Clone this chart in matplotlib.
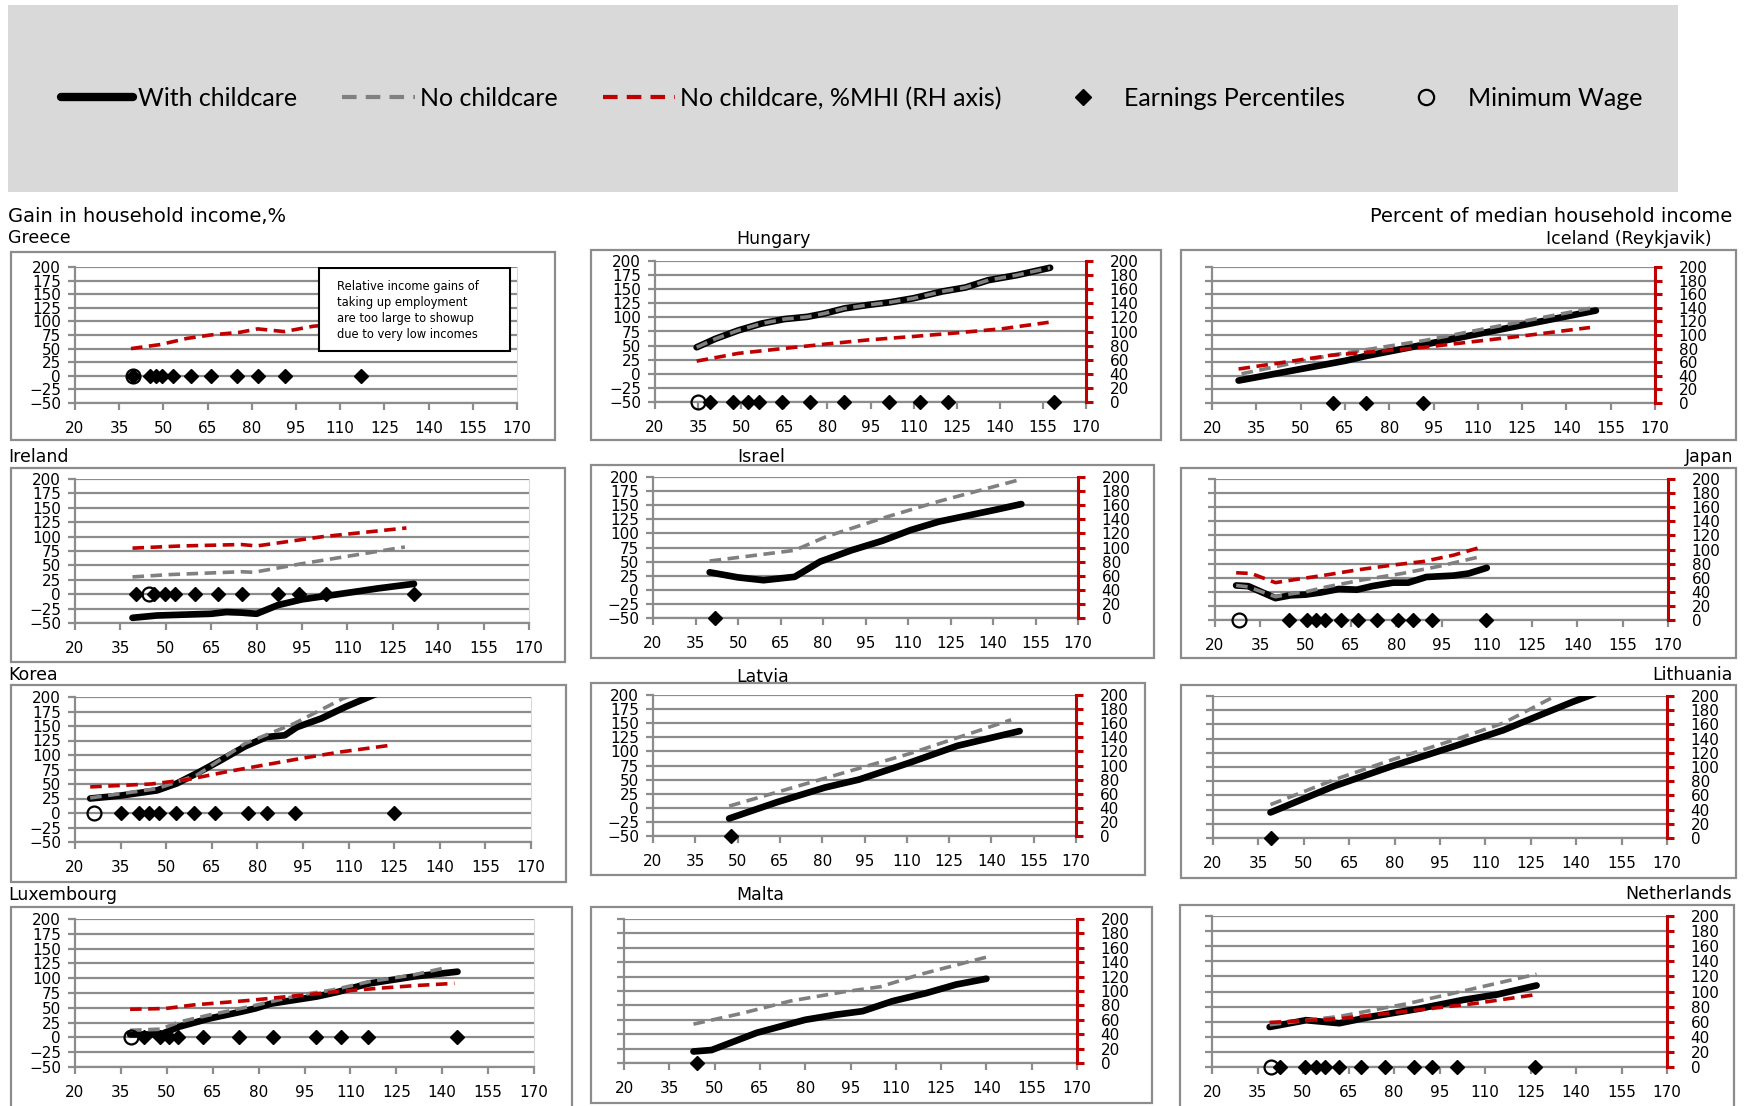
import matplotlib
matplotlib.use("Agg")
import matplotlib.pyplot as plt
from matplotlib.lines import Line2D
from matplotlib.patches import Rectangle

# Greece: with/without childcare gains are off the scale, only %MHI shown
gr_mhi_x = [39, 49, 58, 66, 76, 82, 91, 101, 116]
gr_mhi_y = [80, 86, 95, 100, 104, 109, 105, 113, 118]
gr_pct = [39.8, 45.5, 47.4, 49.4, 53.4, 59.3, 66.3, 75.1, 82.0, 91.2, 117.0]
gr_mw = [39.8]

# Hungary
hu_with_x = [34.5, 41, 49, 57, 65, 73, 79, 86, 94, 102, 110, 120, 128, 136, 146, 157.5]
hu_with_y = [47, 62, 77, 89, 97, 101, 107, 116, 122, 127, 134, 146, 153, 166, 175, 188]
hu_no_x = [34.5, 41, 49, 57, 65, 73, 79, 86, 94, 102, 110, 120, 128, 136, 146, 157.5]
hu_no_y = [47, 62, 77, 89, 97, 101, 107, 116, 122, 127, 134, 146, 153, 166, 175, 188]
hu_mhi_x = [34.5, 49, 65, 79, 94, 110, 125, 141, 157]
hu_mhi_y = [58, 69, 76, 82, 88, 93, 98, 104, 113]
hu_pct = [39.1, 47.0, 52.2, 56.2, 64.1, 73.9, 85.8, 101.6, 112.1, 122.0, 158.8]
hu_mw = [35.1]

# Iceland (Reykjavik)
is_with_x = [29, 65, 72, 92, 150]
is_with_y = [33, 62, 69, 86, 136]
is_no_x = [30, 60, 92, 150]
is_no_y = [43, 70, 92, 141]
is_mhi_x = [29, 60, 92, 124, 148]
is_mhi_y = [50, 70, 82, 98, 111]
is_pct = [61.0, 72.1, 91.3]
is_mw = []

# Ireland
ie_with_x = [39, 47, 65, 70, 75, 80, 87, 95, 107, 120, 132]
ie_with_y = [-41, -37, -34, -31, -32, -34, -19, -9, 0, 10, 18]
ie_no_x = [39, 51, 75, 79, 95, 129]
ie_no_y = [30, 34, 39, 38, 53, 82]
ie_mhi_x = [39, 55, 75, 80, 102, 129.5]
ie_mhi_y = [104, 107, 109, 107, 120, 132]
ie_pct = [40.2, 46.1, 49.9, 53.0, 59.8, 67.1, 75.1, 87.2, 94.1, 102.8, 132.0]
ie_mw = [44.3]

# Israel
il_with_x = [40, 50, 59, 70, 79, 90, 101, 111, 121, 141, 150]
il_with_y = [31, 22, 17, 23, 50, 70, 87, 106, 121, 142, 152]
il_no_x = [40, 70, 81, 101, 121, 150]
il_no_y = [51, 70, 94, 127, 157, 196]
il_pct = [42.0]
il_mw = []

# Japan
jp_with_x = [27, 31, 40, 45, 50, 55, 61, 67, 72, 79, 84, 90, 99, 104, 110]
jp_with_y = [49, 48, 31, 35, 36, 39, 44, 43, 48, 53, 53, 61, 63, 66, 74]
jp_no_x = [27, 31, 40, 45, 50, 57, 69, 82, 94, 107]
jp_no_y = [49, 47, 33, 37, 40, 47, 57, 66, 76, 89]
jp_mhi_x = [27, 32, 40, 46, 57, 67, 79, 89, 99, 107]
jp_mhi_y = [67, 66, 53, 57, 64, 71, 78, 83, 92, 102]
jp_pct = [44.6, 50.5, 53.4, 56.4, 61.6, 67.3, 73.5, 80.6, 85.4, 91.7, 109.8]
jp_mw = [28.0]

# Korea
kr_with_x = [25, 35, 47, 53.5, 61, 68, 76, 83, 89, 93, 101, 109, 118, 125]
kr_with_y = [25, 30, 39, 51, 71, 91, 115, 131, 134, 148, 163, 183, 203, 218]
kr_no_x = [25, 47, 60, 76, 92, 108, 116]
kr_no_y = [26, 42, 65, 120, 154, 197, 212]
kr_mhi_x = [25, 45, 57, 70, 82, 94, 107, 123]
kr_mhi_y = [76, 80, 86, 97, 106, 115, 124, 133]
kr_pct = [35.1, 41.1, 44.4, 47.5, 53.2, 59.0, 66.1, 77.0, 83.2, 92.3, 125.0]
kr_mw = [26.4]

# Latvia
lv_with_x = [47, 64, 81, 93, 111, 128, 150]
lv_with_y = [-19, 10, 36, 50, 80, 110, 136]
lv_no_x = [47, 74.5, 111, 147]
lv_no_y = [3, 43, 96, 156]
lv_pct = [47.6]
lv_mw = []

# Lithuania
lt_with_x = [39, 60, 79, 101, 116, 128, 139, 146]
lt_with_y = [36, 73, 101, 131, 152, 173, 192, 203]
lt_no_x = [39, 60, 79, 101, 116, 134]
lt_no_y = [47, 82, 110, 140, 162, 202]
lt_pct = [39.2]
lt_mw = []

# Luxembourg
lu_with_x = [38, 48, 54, 64, 74, 79, 84, 99, 106, 116, 131, 145]
lu_with_y = [5, 5, 18, 32, 43, 49, 57, 69, 77, 91, 103, 111]
lu_no_x = [38, 48, 54, 64, 77, 94, 104, 116, 131, 140.5]
lu_no_y = [12, 14, 26, 38, 52, 72, 80, 94, 106, 117]
lu_mhi_x = [38, 49.5, 59, 77, 94, 106, 118, 131, 144]
lu_mhi_y = [78, 79, 84, 90, 97, 102, 106, 110, 113]
lu_pct = [42.7, 47.7, 50.7, 53.8, 61.8, 73.7, 84.8, 98.9, 106.8, 115.9, 144.8]
lu_mw = [38.4]

# Malta
mt_with_x = [43, 49, 64, 80, 90, 99, 109, 120, 130, 140]
mt_with_y = [16, 18, 42, 60, 67, 72, 86, 97, 109, 117]
mt_no_x = [43, 59, 75, 93, 105, 118, 140]
mt_no_y = [54, 69, 86, 99, 106, 123, 147]
mt_pct = [44.1]
mt_mw = []

# Netherlands
nl_with_x = [39, 51, 62, 73, 88, 103, 114, 127]
nl_with_y = [53, 62, 58, 67, 77, 89, 96, 108]
nl_no_x = [39, 62, 84.5, 106.5, 127]
nl_no_y = [56, 67, 84, 104, 123]
nl_mhi_x = [39, 62, 84.5, 106.5, 127]
nl_mhi_y = [59, 64, 74, 84, 96]
nl_pct = [42.5, 50.6, 54.3, 57.2, 62.0, 69.0, 77.1, 86.7, 92.6, 100.7, 126.5]
nl_mw = [39.5]

x_ticks = list(range(20, 171, 15))
gain_ticks = list(range(-50, 201, 25))
pct_ticks = list(range(0, 201, 20))

W, H = 1752, 1106
GRID = "#8c8c8c"
RED = "#c00000"
DASHGRAY = "#808080"
DASH = (3.2, 1.8)
TICK_FS = 11

greece_note = ("Relative income gains of\ntaking up employment\n"
               "are too large to showup\ndue to very low incomes")


def px_rect(x0, y0, x1, y1):
    return [x0 / W, 1 - y1 / H, (x1 - x0) / W, (y1 - y0) / H]


def draw_panel(fig, p):
    ax = fig.add_axes(px_rect(*p["box"]))
    ax.set_xlim(20, 170)
    ax.set_xticks(x_ticks)
    if p["scale"] == "gain":
        ax.set_ylim(-50, 200)
        ax.set_yticks(gain_ticks)
    else:
        ax.set_ylim(0, 200)
        ax.set_yticks(pct_ticks)
        ax.tick_params(axis="y", labelleft=False)
    ax.set_facecolor("none")
    ax.yaxis.grid(True, color=GRID, lw=1.6)
    ax.set_axisbelow(True)
    for side in ["left", "bottom"]:
        ax.spines[side].set_color(GRID)
        ax.spines[side].set_linewidth(1.6)
    ax.spines["top"].set_visible(False)
    ax.spines["right"].set_color("#d9d9d9")
    ax.tick_params(axis="both", direction="out", length=5, width=1.6,
                   color=GRID, labelsize=TICK_FS)
    ax.tick_params(axis="x", pad=8)
    ax.tick_params(axis="y", pad=5)

    # Secondary axis for the %MHI series
    ax2 = ax.twinx()
    ax2.set_ylim(0, 200)
    ax2.set_yticks(pct_ticks)
    for side in ["left", "bottom", "top"]:
        ax2.spines[side].set_visible(False)
    if p["col"] == 1:
        ax2.spines["right"].set_visible(False)
        ax2.tick_params(axis="y", right=False, labelright=False)
    else:
        ax2.spines["right"].set_color(RED)
        ax2.spines["right"].set_linewidth(2.2)
        ax2.tick_params(axis="y", direction="out", length=5, width=2.2,
                        color=RED, labelsize=TICK_FS, pad=12)

    if p.get("with_x"):
        ax.plot(p["with_x"], p["with_y"], color="black", lw=4.8,
                solid_capstyle="round", solid_joinstyle="round")
    if p.get("no_x"):
        ax.plot(p["no_x"], p["no_y"], color=DASHGRAY, lw=2.6, dashes=DASH)
    if p.get("mhi_x"):
        ax2.plot(p["mhi_x"], p["mhi_y"], color=RED, lw=2.6, dashes=DASH)

    # Earnings percentiles and minimum wage sit on the zero line
    mark_ax = ax if p["col"] == 1 else ax2
    mark_ax.plot(p["pct"], [0] * len(p["pct"]), ls="none", marker="D",
                 ms=7.5, color="black", clip_on=False, zorder=4)
    if p["mw"]:
        mark_ax.plot(p["mw"], [0] * len(p["mw"]), ls="none", marker="o",
                     ms=10, mfc="none", mec="black", mew=1.6,
                     clip_on=False, zorder=4)

    # Chart border and country title
    x0, y0, x1, y1 = p["frame"]
    fig.add_artist(Rectangle((x0 / W, 1 - y1 / H), (x1 - x0) / W,
                             (y1 - y0) / H, transform=fig.transFigure,
                             fill=False, ec=GRID, lw=1.6))
    tx, ty, ha = p["title"]
    fig.text(tx / W, 1 - ty / H, p["name"], ha=ha, va="center", fontsize=12.5)
    return ax, ax2


panels = [
    dict(name="Greece", col=1, scale="gain", box=(75, 267, 517, 403),
         frame=(11, 252, 555, 440), title=(8, 238, "left"),
         mhi_x=gr_mhi_x, mhi_y=gr_mhi_y, pct=gr_pct, mw=gr_mw),
    dict(name="Hungary", col=2, scale="gain", box=(655, 261, 1086, 402),
         frame=(591, 250, 1161, 440), title=(773, 239, "center"),
         with_x=hu_with_x, with_y=hu_with_y, no_x=hu_no_x, no_y=hu_no_y,
         mhi_x=hu_mhi_x, mhi_y=hu_mhi_y, pct=hu_pct, mw=hu_mw),
    dict(name="Iceland (Reykjavik)", col=3, scale="pct",
         box=(1212, 267, 1655, 403), frame=(1181, 250, 1736, 440),
         title=(1712, 239, "right"),
         with_x=is_with_x, with_y=is_with_y, no_x=is_no_x, no_y=is_no_y,
         mhi_x=is_mhi_x, mhi_y=is_mhi_y, pct=is_pct, mw=is_mw),
    dict(name="Ireland", col=1, scale="gain", box=(75, 479, 529, 623),
         frame=(11, 468, 565, 662), title=(8, 457, "left"),
         with_x=ie_with_x, with_y=ie_with_y, no_x=ie_no_x, no_y=ie_no_y,
         mhi_x=ie_mhi_x, mhi_y=ie_mhi_y, pct=ie_pct, mw=ie_mw),
    dict(name="Israel", col=2, scale="gain", box=(653, 477, 1078, 618),
         frame=(591, 465, 1154, 658), title=(761, 457, "center"),
         with_x=il_with_x, with_y=il_with_y, no_x=il_no_x, no_y=il_no_y,
         pct=il_pct, mw=il_mw),
    dict(name="Japan", col=3, scale="pct", box=(1215, 479, 1668, 620),
         frame=(1181, 468, 1736, 658), title=(1733, 457, "right"),
         with_x=jp_with_x, with_y=jp_with_y, no_x=jp_no_x, no_y=jp_no_y,
         mhi_x=jp_mhi_x, mhi_y=jp_mhi_y, pct=jp_pct, mw=jp_mw),
    dict(name="Korea", col=1, scale="gain", box=(75, 697, 531, 842),
         frame=(11, 685, 566, 882), title=(8, 675, "left"),
         with_x=kr_with_x, with_y=kr_with_y, no_x=kr_no_x, no_y=kr_no_y,
         mhi_x=kr_mhi_x, mhi_y=kr_mhi_y, pct=kr_pct, mw=kr_mw),
    dict(name="Latvia", col=2, scale="gain", box=(653, 695, 1076, 836),
         frame=(591, 683, 1145, 875), title=(763, 677, "center"),
         with_x=lv_with_x, with_y=lv_with_y, no_x=lv_no_x, no_y=lv_no_y,
         pct=lv_pct, mw=lv_mw),
    dict(name="Lithuania", col=3, scale="pct", box=(1213, 696, 1667, 838),
         frame=(1181, 685, 1736, 878), title=(1733, 675, "right"),
         with_x=lt_with_x, with_y=lt_with_y, no_x=lt_no_x, no_y=lt_no_y,
         pct=lt_pct, mw=lt_mw),
    dict(name="Luxembourg", col=1, scale="gain", box=(75, 919, 534, 1067),
         frame=(11, 907, 572, 1115), title=(8, 895, "left"),
         with_x=lu_with_x, with_y=lu_with_y, no_x=lu_no_x, no_y=lu_no_y,
         mhi_x=lu_mhi_x, mhi_y=lu_mhi_y, pct=lu_pct, mw=lu_mw),
    dict(name="Malta", col=2, scale="pct", box=(624, 919, 1077, 1063),
         frame=(591, 907, 1152, 1103), title=(760, 895, "center"),
         with_x=mt_with_x, with_y=mt_with_y, no_x=mt_no_x, no_y=mt_no_y,
         pct=mt_pct, mw=mt_mw),
    dict(name="Netherlands", col=3, scale="pct", box=(1212, 916, 1667, 1067),
         frame=(1180, 905, 1734, 1115), title=(1732, 894, "right"),
         with_x=nl_with_x, with_y=nl_with_y, no_x=nl_no_x, no_y=nl_no_y,
         mhi_x=nl_mhi_x, mhi_y=nl_mhi_y, pct=nl_pct, mw=nl_mw),
]


def main():
    plt.rcParams["font.family"] = ["DejaVu Sans"]
    fig = plt.figure(figsize=(W / 100, H / 100), dpi=100)
    fig.patch.set_facecolor("white")

    # Legend strip
    leg_ax = fig.add_axes(px_rect(8, 5, 1678, 192))
    leg_ax.set_facecolor("#d9d9d9")
    leg_ax.set_xticks([])
    leg_ax.set_yticks([])
    for s in leg_ax.spines.values():
        s.set_visible(False)
    handles = [
        Line2D([], [], color="black", lw=6, solid_capstyle="round"),
        Line2D([], [], color=DASHGRAY, lw=3, dashes=(3.5, 2.2)),
        Line2D([], [], color=RED, lw=3, dashes=(3.5, 2.2)),
        Line2D([], [], color="black", ls="none", marker="D", ms=8),
        Line2D([], [], color="black", ls="none", marker="o", ms=11,
               mfc="none", mew=1.6),
    ]
    labels = ["With childcare", "No childcare", "No childcare, %MHI (RH axis)",
              "Earnings Percentiles", "Minimum Wage"]
    leg_ax.legend(handles, labels, loc="center", ncol=5, frameon=False,
                  prop={"family": "Lato", "size": 18}, handlelength=2.9,
                  handletextpad=0.2, columnspacing=1.8,
                  bbox_to_anchor=(0.505, 0.5))

    fig.text(8 / W, 1 - 217 / H, "Gain in household income,%", ha="left",
             va="center", fontsize=14)
    fig.text(1732 / W, 1 - 217 / H, "Percent of median household income",
             ha="right", va="center", fontsize=14)

    for p in panels:
        ax, ax2 = draw_panel(fig, p)
        if p["name"] == "Greece":
            ax2.add_patch(Rectangle((0.552, 0.382), 0.432, 0.611,
                                    transform=ax2.transAxes, fc="white",
                                    ec="black", lw=1.5, zorder=5))
            ax2.text(0.593, 0.905, greece_note, transform=ax2.transAxes,
                     ha="left", va="top", fontsize=8.3, linespacing=1.3,
                     zorder=6)

    fig.savefig("out.png", dpi=100)


if __name__ == "__main__":
    main()
